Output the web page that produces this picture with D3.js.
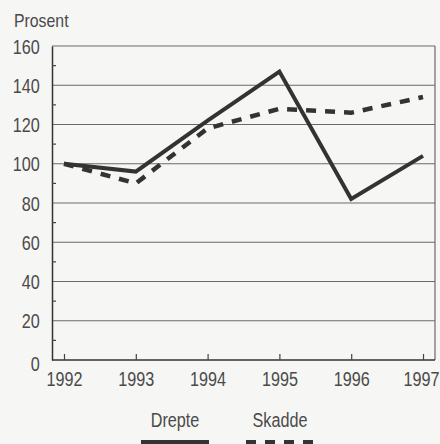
<!DOCTYPE html>
<html>
<head>
<meta charset="utf-8">
<script src="https://cdn.jsdelivr.net/npm/d3@7/dist/d3.min.js"></script>
<style>
  body { margin: 0; background: #f6f6f4; }
  svg { display: block; }
  .lbl { font-family: "Liberation Sans", Arial, sans-serif; fill: #4a4a4a; }
</style>
</head>
<body>
<svg id="chart" width="440" height="444"></svg>
<script>
  "use strict"

  var years = [1992, 1993, 1994, 1995, 1996, 1997]
  var drepte = [100, 96, 122, 147, 82, 104]
  var skadde = [100, 90, 118, 128, 126, 134]
  var yTicks = [0, 20, 40, 60, 80, 100, 120, 140, 160]
  var yMinor = [10, 30, 50, 70, 90, 110, 130, 150]
  var seriesNames = ["Drepte", "Skadde"]

  var box = { left: 52, right: 435, top: 46, bottom: 360 }
  // the original type is a condensed grotesque, squeeze the text horizontally
  var sx = 0.81
  var squeeze = "scale(" + sx + ",1)"

  var svg = d3.select("#chart")

  var x = d3.scaleLinear().domain([1992, 1997]).range([64, 423])
  var y = d3.scaleLinear().domain([0, 160]).range([box.bottom, box.top])

  // grid lines
  svg.selectAll(".grid")
    .data(yTicks.filter(function(d){ return d > 0 }))
    .enter().append("line")
    .attr("x1", box.left).attr("x2", box.right)
    .attr("y1", function(d){ return y(d) }).attr("y2", function(d){ return y(d) })
    .attr("stroke", "#6a6a6a").attr("stroke-width", 1.2)

  // right frame
  svg.append("line")
    .attr("x1", box.right).attr("x2", box.right)
    .attr("y1", box.top).attr("y2", box.bottom)
    .attr("stroke", "#6a6a6a").attr("stroke-width", 1.2)

  // left axis
  var yAxis = d3.axisLeft(y).tickValues(yTicks).tickSize(0).tickPadding(15)
  var gy = svg.append("g").attr("transform", "translate(" + box.left + ",0)").call(yAxis)
  gy.select(".domain").attr("stroke", "#333").attr("stroke-width", 1.5)
  gy.selectAll("text").attr("class", "lbl").attr("font-size", 20).attr("dy", "0.36em")
    .attr("transform", function(d){ return d === 0 ? "translate(0,3) " + squeeze : squeeze })

  svg.selectAll(".ymin")
    .data(yMinor)
    .enter().append("line")
    .attr("x1", box.left).attr("x2", box.left + 4)
    .attr("y1", function(d){ return y(d) }).attr("y2", function(d){ return y(d) })
    .attr("stroke", "#444").attr("stroke-width", 1.2)

  // bottom axis
  var xAxis = d3.axisBottom(x).tickValues(years).tickFormat(d3.format("d"))
    .tickSizeInner(-6).tickSizeOuter(0).tickPadding(12)
  var gx = svg.append("g").attr("transform", "translate(0," + box.bottom + ")").call(xAxis)
  gx.select(".domain").attr("d", "M" + box.left + ",0H" + box.right)
    .attr("stroke", "#333").attr("stroke-width", 1.5)
  gx.selectAll(".tick line").attr("stroke", "#444").attr("stroke-width", 1.2)
  gx.selectAll("text").attr("class", "lbl").attr("font-size", 20).attr("dy", "0.71em")
    .attr("transform", squeeze)
  // last year label sits flush against the right edge
  gx.selectAll("text").filter(function(d){ return d === 1997 })
    .attr("text-anchor", "end").attr("x", 16 / sx)

  svg.append("text").attr("class", "lbl")
    .attr("transform", "translate(14,27) scale(0.88,1)")
    .attr("font-size", 18).text("Prosent")

  // series
  var line = d3.line()
    .x(function(d, i){ return x(years[i]) })
    .y(function(d){ return y(d) })

  svg.append("path").datum(skadde)
    .attr("d", line).attr("fill", "none")
    .attr("stroke", "#333").attr("stroke-width", 4.5)
    .attr("stroke-dasharray", "10,9")

  svg.append("path").datum(drepte)
    .attr("d", line).attr("fill", "none")
    .attr("stroke", "#333").attr("stroke-width", 4)
    .attr("stroke-linejoin", "miter")

  // legend
  var legX = [175, 280]
  svg.selectAll(".legtext")
    .data(seriesNames)
    .enter().append("text")
    .attr("class", "lbl").attr("font-size", 20)
    .attr("text-anchor", "middle")
    .attr("transform", function(d, i){ return "translate(" + legX[i] + ",427) " + squeeze })
    .text(function(d){ return d })

  svg.selectAll(".legline")
    .data(seriesNames)
    .enter().append("line")
    .attr("x1", function(d, i){ return legX[i] - 34 })
    .attr("x2", function(d, i){ return legX[i] + 34 })
    .attr("y1", 443).attr("y2", 443)
    .attr("stroke", "#333").attr("stroke-width", 6)
    .attr("stroke-dasharray", function(d, i){ return i === 1 ? "10,9" : null })
</script>
</body>
</html>
